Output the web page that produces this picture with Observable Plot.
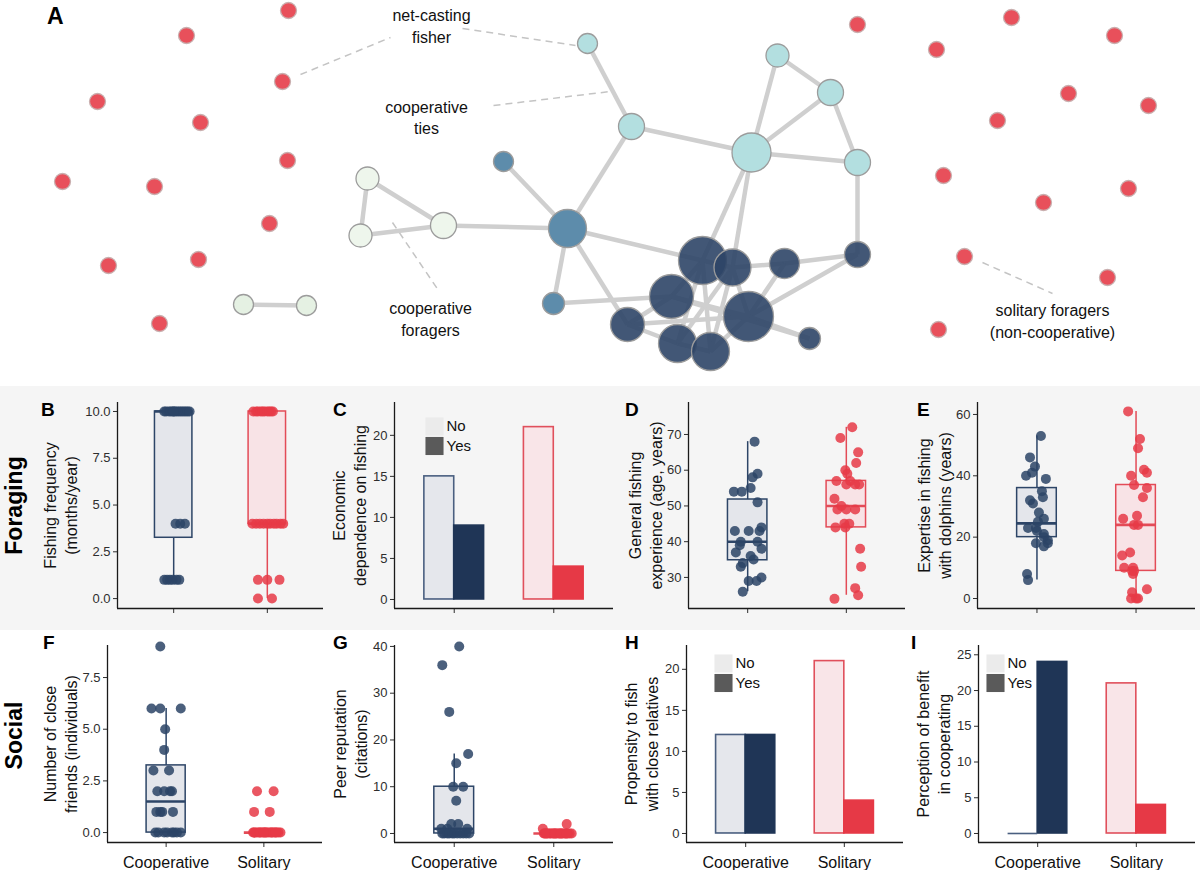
<!DOCTYPE html>
<html><head><meta charset="utf-8">
<script src="https://cdn.jsdelivr.net/npm/d3@7"></script>
<script src="https://cdn.jsdelivr.net/npm/@observablehq/plot@0.6"></script>
<style>
body{margin:0;background:#fff;}
#fig{position:relative;width:1200px;height:870px;overflow:hidden;font-family:"Liberation Sans",Arial,Helvetica,sans-serif;}
</style></head><body><div id="fig"></div>
<script>
// ---------------- DATA ----------------
const groups = ["Cooperative", "Solitary"];
const legendKeys = ["No", "Yes"];

// Panel A: network of cooperative foragers (layout positions)
const netX = [587,777,830,631,751,857,503,367,360,443,567,553,702,732,784,857,671,748,627,677,710,809,243,306];
const netY = [43,55,92,126,152,162,161,178,235,225,228,303,260,267,263,254,296,316,324,343,351,338,304,305];
const netR = [10,11.5,13,13,19.5,13,10,11.5,11.5,13,19,11,24,18.5,15,13,22,25,17,19,19,11,10,10];
const netGroup = ["cyan","cyan","cyan","cyan","cyan","cyan","blue","pale","pale","pale","blue","blue",
  "dark","dark","dark","dark","dark","dark","dark","dark","dark","dark","pale2","pale2"];
const netEdges = [[0,3],[3,4],[3,10],[1,2],[1,4],[2,4],[2,5],[4,5],[5,15],[4,12],[4,13],
  [6,10],[7,8],[7,9],[8,9],[9,10],[10,11],[10,18],[10,12],[11,16],
  [12,13],[13,14],[14,15],[15,17],[14,17],[17,21],[16,21],[18,16],[18,17],[18,19],[19,20],
  [12,16],[12,19],[13,19],[13,20],[12,20],[16,17],[20,17],[13,17],[22,23]];
const soloX = [288,186,282,97,200,287,62,154,269,108,198,159, 857,1011,936,1114,1068,1148,997,943,1043,1128,964,1107,938];
const soloY = [10,35,81,101,122,160,181,186,223,265,259,323, 24,17,49,35,93,105,120,175,202,188,256,277,329];
const annotText = ["net-casting\nfisher", "cooperative\nties", "cooperative\nforagers", "solitary foragers\n(non-cooperative)"];
const annotX = [431, 426, 430, 1052];
const annotY = [24.5, 116, 317.5, 319.5];
const leaders = [[300,74,390,37],[462,28,575,45],[493,105,610,91],[392,222,438,290],[982,262,1052,293]];

// B: fishing frequency (months/year)
const bCoopVal = [10,10,10,10,10,10,10,10,10,10,10,10,10,10,10,4,4,4,1,1,1,1,1,1];
const bCoopJit = [-0.1,-0.08,-0.05,-0.03,-0.01,0.01,0.03,0.05,0.07,0.09,0.11,0.13,0.15,0.17,0.0,0.02,0.07,0.12,-0.1,-0.07,-0.04,-0.01,0.03,0.06];
const bSolVal = [10,10,10,10,10,10,10,10,10,10,4,4,4,4,4,4,4,4,4,4,1,1,1,0,0];
const bSolJit = [-0.15,-0.12,-0.1,-0.07,-0.05,-0.03,0,0.02,0.04,0.06,-0.16,-0.12,-0.08,-0.04,0,0.03,0.07,0.1,0.14,0.17,-0.1,0,0.13,-0.1,0.05];
const bBox = {q1:[3.25,4], med:[10,4], q3:[10,10], lo:[1,0], hi:[10,10]};

// C: economic dependence on fishing (counts)
const cNo = [15, 21], cYes = [9, 4];

// D: general fishing experience (age, years)
const dCoopVal = [68,59,58,55,54,54,51,43,43,44,43,40,39,40,38,37,36,35,34,33,29,29,30,26];
const dCoopJit = [0.07,0.10,0.05,0.03,-0.14,-0.06,0.10,-0.13,0.01,0.14,0.12,-0.07,-0.08,0.10,0.14,-0.12,0.03,0.06,-0.05,-0.07,0.01,0.09,0.14,-0.05];
const dSolVal = [72,69,65,62,60,59,57,56,56,56,52,49,49,49,44,45,44,38,33,27,25,24,57,50,45];
const dSolJit = [0.06,-0.06,0.12,0.10,-0.01,0.01,-0.10,0,0.09,0.13,-0.12,-0.09,0,0.09,-0.11,-0.02,-0.01,0.14,0.15,0.09,0.12,-0.12,0.04,-0.05,0.03];
const dBox = {q1:[34.8,44], med:[40,50], q3:[51.8,57], lo:[26,25], hi:[68,72]};

// E: expertise in fishing with dolphins (years)
const eCoopVal = [53,46,43,41,40,39,35,33,32,31,28,26,23,23,22,21,20,19,18,18,17,8,6,25];
const eCoopJit = [0.04,-0.07,-0.02,-0.05,-0.11,0.09,0.05,0.06,-0.07,-0.04,0.02,0.07,-0.09,-0.01,0,0.07,0.07,0.11,-0.01,0.11,0.07,-0.10,-0.09,0.01];
const eSolVal = [61,52,49,42,41,40,37,36,33,26,27,24,24,14,15,10,10,9,8,2,3,0,0,0,9];
const eSolJit = [-0.08,0.04,0.02,0.08,0.11,-0.05,-0.02,0.11,0.07,-0.13,0.01,-0.02,0.02,-0.14,-0.06,-0.12,-0.03,-0.04,-0.03,-0.04,0.11,-0.05,0.02,0.0,-0.02];
const eBox = {q1:[20,9], med:[24.5,24], q3:[36,37], lo:[6,0], hi:[53,61]};

// F: number of close friends (individuals)
const fCoopVal = [9,6,6,6,5,4,3,3,2,2,2,2,1,1,1,1,0,0,0,0,0,0,0,0];
const fCoopJit = [-0.06,-0.15,-0.06,0.15,-0.01,-0.02,-0.13,0.03,-0.09,-0.02,0.04,0.06,-0.10,-0.04,0.07,-0.06,-0.11,-0.08,0.01,0.06,0.08,0.15,-0.02,0.11];
const fSolVal = [2,2,1,1,0,0,0,0,0,0,0,0,0,0,0,0,0,0,0,0,0,0,0,0,0];
const fSolJit = [-0.07,0.10,-0.10,0.06,-0.11,-0.09,-0.07,-0.05,-0.03,-0.01,0.01,0.03,0.05,0.07,0.09,0.11,0.13,0.15,0.17,-0.1,-0.04,0.02,0.08,0.12,0.0];
const fBox = {q1:[0,0], med:[1.5,0], q3:[3.25,0], lo:[0,0], hi:[6,0]};

// G: peer reputation (citations)
const gCoopVal = [40,36,26,17,15,10,10,7,2,2,1,1,1,0,0,0,0,0,0,0,0,0,0,0];
const gCoopJit = [0.05,-0.12,-0.05,0.14,0.02,0.09,-0.01,0.02,-0.03,0.04,-0.13,-0.07,0.13,-0.12,-0.1,-0.07,-0.05,-0.02,0,0.03,0.06,0.09,0.12,0.15];
const gSolVal = [2,1,0,0,0,0,0,0,0,0,0,0,0,0,0,0,0,0,0,0,0,0,0,0,0];
const gSolJit = [0.13,-0.11,-0.1,-0.09,-0.07,-0.06,-0.04,-0.03,-0.01,0,0.02,0.03,0.05,0.06,0.08,0.09,0.11,0.12,0.14,0.16,0.18,-0.08,0.01,0.07,0.13];
const gBox = {q1:[0,0], med:[1,0], q3:[10,0], lo:[0,0], hi:[17,0]};

// H: propensity to fish with close relatives (counts)
const hNo = [12, 21], hYes = [12, 4];
// I: perception of benefit in cooperating (counts)
const iNo = [0, 21], iYes = [24, 4];

// ---------------- STYLE ----------------
const FONT = "'Liberation Sans', Arial, Helvetica, sans-serif";
const AXIS = "#1a1a1a";
const PT = ["#2c4466", "#e63946"];
const BOXFILL = ["#e4e6eb", "#f8e3e6"];
const BOXSTROKE = ["#2d4567", "#e34b57"];
const BARNO = ["#e5e7ec", "#f9e5e8"];
const BARNOSTROKE = ["#4a5f80", "#e0505c"];
const BARYES = ["#1f3556", "#e63946"];
const NODEFILL = {cyan:"#b3dfe0", blue:"#5d8cab", pale:"#eef6ec", pale2:"#e5f1e3", dark:"#2e4567"};

const fig = document.getElementById("fig");
function addDiv(text, css) {
  const d = document.createElement("div");
  d.textContent = text;
  Object.assign(d.style, {position: "absolute", whiteSpace: "nowrap"}, css);
  fig.append(d);
  return d;
}
function place(el, left, top) {
  el.style.position = "absolute"; el.style.left = left + "px"; el.style.top = top + "px";
  el.style.maxWidth = "none";
  fig.append(el);
}

// grey band behind the Foraging row
addDiv("", {left: "0px", top: "386px", width: "1200px", height: "244px", background: "#f5f5f5"});

// ---------------- PANEL A ----------------
const nodes = netX.map((x, i) => ({x, y: netY[i], r: netR[i], g: netGroup[i]}));
const solos = soloX.map((x, i) => ({x, y: soloY[i]}));
const edges = netEdges.map(([a, b]) => ({x1: netX[a], y1: netY[a], x2: netX[b], y2: netY[b]}));
const leaderData = leaders.map(([x1, y1, x2, y2]) => ({x1, y1, x2, y2}));
const annots = annotText.map((t, i) => ({t, x: annotX[i], y: annotY[i]}));

const net = Plot.plot({
  width: 1200, height: 380, marginTop: 0, marginRight: 0, marginBottom: 0, marginLeft: 0,
  style: {background: "transparent", fontFamily: FONT},
  x: {domain: [0, 1200], range: [0, 1200], axis: null},
  y: {domain: [0, 380], range: [0, 380], axis: null},
  r: {type: "linear", domain: [0, 100], range: [0, 100]},
  marks: [
    Plot.link(leaderData, {x1: "x1", y1: "y1", x2: "x2", y2: "y2", stroke: "#c4c4c4", strokeWidth: 1.5, strokeDasharray: "7,5"}),
    Plot.link(edges, {x1: "x1", y1: "y1", x2: "x2", y2: "y2", stroke: "#cfcfcf", strokeWidth: 4.5}),
    Plot.dot(solos, {x: "x", y: "y", r: 8, fill: "#e8505b", stroke: "#c9b0b0", strokeWidth: 1.3}),
    Plot.dot(nodes.filter(d => d.g !== "dark"), {x: "x", y: "y", r: "r", fill: d => NODEFILL[d.g], stroke: "#9c9c9c", strokeWidth: 1.3}),
    Plot.dot(nodes.filter(d => d.g === "dark"), {x: "x", y: "y", r: "r", fill: NODEFILL.dark, fillOpacity: 0.9, stroke: "#9c9c9c", strokeWidth: 1.3}),
    Plot.text(annots, {x: "x", y: "y", text: "t", fontSize: 16, lineHeight: 1.35, fill: "#111"})
  ]
});
place(net, 0, 0);

// ---------------- SMALL PANELS ----------------
function pts(vals, jit, cat) { return vals.map((v, i) => ({v, x: cat + jit[i], g: cat - 1})); }
function boxes(b) { return [0, 1].map(i => ({cat: i + 1, g: i, q1: b.q1[i], med: b.med[i], q3: b.q3[i], lo: b.lo[i], hi: b.hi[i]})); }
function bars(no, yes) {
  return [0, 1].flatMap(i => [
    {x1: i + 1 - 0.3, x2: i + 1, n: no[i], fill: BARNO[i], stroke: BARNOSTROKE[i]},
    {x1: i + 1, x2: i + 1 + 0.3, n: yes[i], fill: BARYES[i], stroke: BARYES[i]}
  ]);
}
function boxMarks(b, coopP, solP) {
  const bx = boxes(b);
  const pd = coopP.concat(solP);
  return [
    Plot.ruleX(bx, {x: "cat", y1: "lo", y2: "q1", stroke: d => BOXSTROKE[d.g], strokeWidth: 1.5}),
    Plot.ruleX(bx, {x: "cat", y1: "q3", y2: "hi", stroke: d => BOXSTROKE[d.g], strokeWidth: 1.5}),
    Plot.rect(bx, {x1: d => d.cat - 0.2, x2: d => d.cat + 0.2, y1: "q1", y2: "q3", fill: d => BOXFILL[d.g], stroke: d => BOXSTROKE[d.g], strokeWidth: 1.5}),
    Plot.ruleY(bx, {y: "med", x1: d => d.cat - 0.2, x2: d => d.cat + 0.2, stroke: d => BOXSTROKE[d.g], strokeWidth: 2.6}),
    Plot.dot(pd, {x: "x", y: "v", r: 5, fill: d => PT[d.g], fillOpacity: 0.85})
  ];
}
function barMarks(no, yes) {
  const bd = bars(no, yes);
  return [
    Plot.rect(bd, {x1: "x1", x2: "x2", y1: () => 0, y2: "n", fill: "fill", stroke: "stroke", strokeWidth: 1.6}),
    Plot.ruleY(bd.filter(d => d.n === 0), {y: "n", x1: "x1", x2: "x2", stroke: "stroke", strokeWidth: 1.6})
  ];
}
function legendMarks(lx, ly) {
  const common = {frameAnchor: "top-left", dx: lx + 12, text: d => d, textAnchor: "start", lineAnchor: "middle", fontSize: 15, fill: "#111"};
  return [
    Plot.dot(["No"], {frameAnchor: "top-left", dx: lx, dy: ly, r: 10.2, symbol: "square", fill: "#ebebeb"}),
    Plot.dot(["Yes"], {frameAnchor: "top-left", dx: lx, dy: ly + 19.5, r: 10.2, symbol: "square", fill: "#5a5a5a"}),
    Plot.text(["No"], {...common, dy: ly}),
    Plot.text(["Yes"], {...common, dy: ly + 19.5})
  ];
}

function panel(o) {
  const ml = o.axisX - o.left, mr = o.left + o.width - o.endX;
  const ymin = o.yDomain[0];
  const marks = [...o.marks,
    Plot.ruleX([0.4], {stroke: AXIS, strokeWidth: 1.3}),
    Plot.ruleY([ymin], {stroke: AXIS, strokeWidth: 1.3}),
    Plot.text([o.title], {frameAnchor: "left", dx: -o.titleDx, rotate: -90, text: d => d, textAnchor: "middle", lineAnchor: "middle",
      fontSize: 16, lineHeight: 1.3, fill: "#111"})
  ];
  if (o.xlabels) marks.push(Plot.text(groups, {x: (d, i) => i + 1, y: () => ymin, dy: 20, text: d => d, fontSize: 16, fill: "#111"}));
  const p = Plot.plot({
    width: o.width, height: o.height, marginLeft: ml, marginRight: mr, marginTop: o.mt, marginBottom: o.mb,
    style: {background: "transparent", fontFamily: FONT, fontSize: "13px", color: "#2e2e2e", overflow: "visible"},
    x: {domain: [0.4, 2.6], ticks: [1, 2], tickFormat: () => "", tickSize: 5, label: null},
    y: {domain: o.yDomain, ticks: o.yTicks, tickFormat: o.yFmt, tickSize: 4, tickPadding: 3, label: null},
    marks
  });
  place(p, o.left, o.top);
}
const f1 = d3.format(".1f"), f0 = d3.format("d");
const R1 = {top: 380, height: 240, mt: 22, mb: 12};
const R2 = {top: 625, height: 245, mt: 20, mb: 28, xlabels: true};

panel({...R1, left: 0, width: 330, axisX: 117, endX: 323, yDomain: [-0.53, 10.48], yTicks: [0, 2.5, 5, 7.5, 10], yFmt: f1,
  title: "Fishing frequency\n(months/year)", titleDx: 58,
  marks: boxMarks(bBox, pts(bCoopVal, bCoopJit, 1), pts(bSolVal, bSolJit, 2))});
panel({...R1, left: 300, width: 320, axisX: 394, endX: 613, yDomain: [-1.1, 24.0], yTicks: [0, 5, 10, 15, 20], yFmt: f0,
  title: "Economic\ndependence on fishing", titleDx: 46,
  marks: [...barMarks(cNo, cYes), ...legendMarks(40, 24)]});
panel({...R1, left: 600, width: 310, axisX: 688, endX: 905, yDomain: [21.3, 78.95], yTicks: [30, 40, 50, 60, 70], yFmt: f0,
  title: "General fishing\nexperience (age, years)", titleDx: 44,
  marks: boxMarks(dBox, pts(dCoopVal, dCoopJit, 1), pts(dSolVal, dSolJit, 2))});
panel({...R1, left: 890, width: 310, axisX: 977, endX: 1195, yDomain: [-3.26, 63.9], yTicks: [0, 20, 40, 60], yFmt: f0,
  title: "Expertise in fishing\nwith dolphins (years)", titleDx: 44,
  marks: boxMarks(eBox, pts(eCoopVal, eCoopJit, 1), pts(eSolVal, eSolJit, 2))});

panel({...R2, left: 0, width: 330, axisX: 107, endX: 322, yDomain: [-0.48, 9.05], yTicks: [0, 2.5, 5, 7.5], yFmt: f1,
  title: "Number of close\nfriends (individuals)", titleDx: 48,
  marks: boxMarks(fBox, pts(fCoopVal, fCoopJit, 1), pts(fSolVal, fSolJit, 2))});
panel({...R2, left: 300, width: 320, axisX: 394, endX: 613, yDomain: [-1.93, 40.2], yTicks: [0, 10, 20, 30, 40], yFmt: f0,
  title: "Peer reputation\n(citations)", titleDx: 45,
  marks: boxMarks(gBox, pts(gCoopVal, gCoopJit, 1), pts(gSolVal, gSolJit, 2))});
panel({...R2, left: 600, width: 310, axisX: 686, endX: 903, yDomain: [-1.1, 22.9], yTicks: [0, 5, 10, 15, 20], yFmt: f0,
  title: "Propensity to fish\nwith close relatives", titleDx: 46,
  marks: [...barMarks(hNo, hYes), ...legendMarks(37, 18)]});
panel({...R2, left: 890, width: 310, axisX: 978, endX: 1195, yDomain: [-1.26, 26.3], yTicks: [0, 5, 10, 15, 20, 25], yFmt: f0,
  title: "Perception of benefit\nin cooperating", titleDx: 46,
  marks: [...barMarks(iNo, iYes), ...legendMarks(17, 18)]});

// ---------------- LETTERS & ROW LABELS ----------------
const bold = {fontWeight: "bold", color: "#000", lineHeight: "1"};
addDiv("A", {...bold, fontSize: "23px", left: "47px", top: "5px"});
[["B",41,399.5],["C",333,399.5],["D",625,399.5],["E",917,399.5],["F",43,632.5],["G",333,632.5],["H",625,632.5],["I",911,632.5]]
  .forEach(([t, x, y]) => addDiv(t, {...bold, fontSize: "19px", left: x + "px", top: y + "px"}));
[["Foraging", 505], ["Social", 735]].forEach(([t, cy]) =>
  addDiv(t, {...bold, fontSize: "23px", width: "200px", height: "23px", textAlign: "center",
    left: (14 - 100) + "px", top: (cy - 11.5) + "px", transform: "rotate(-90deg)"}));
</script></body></html>
